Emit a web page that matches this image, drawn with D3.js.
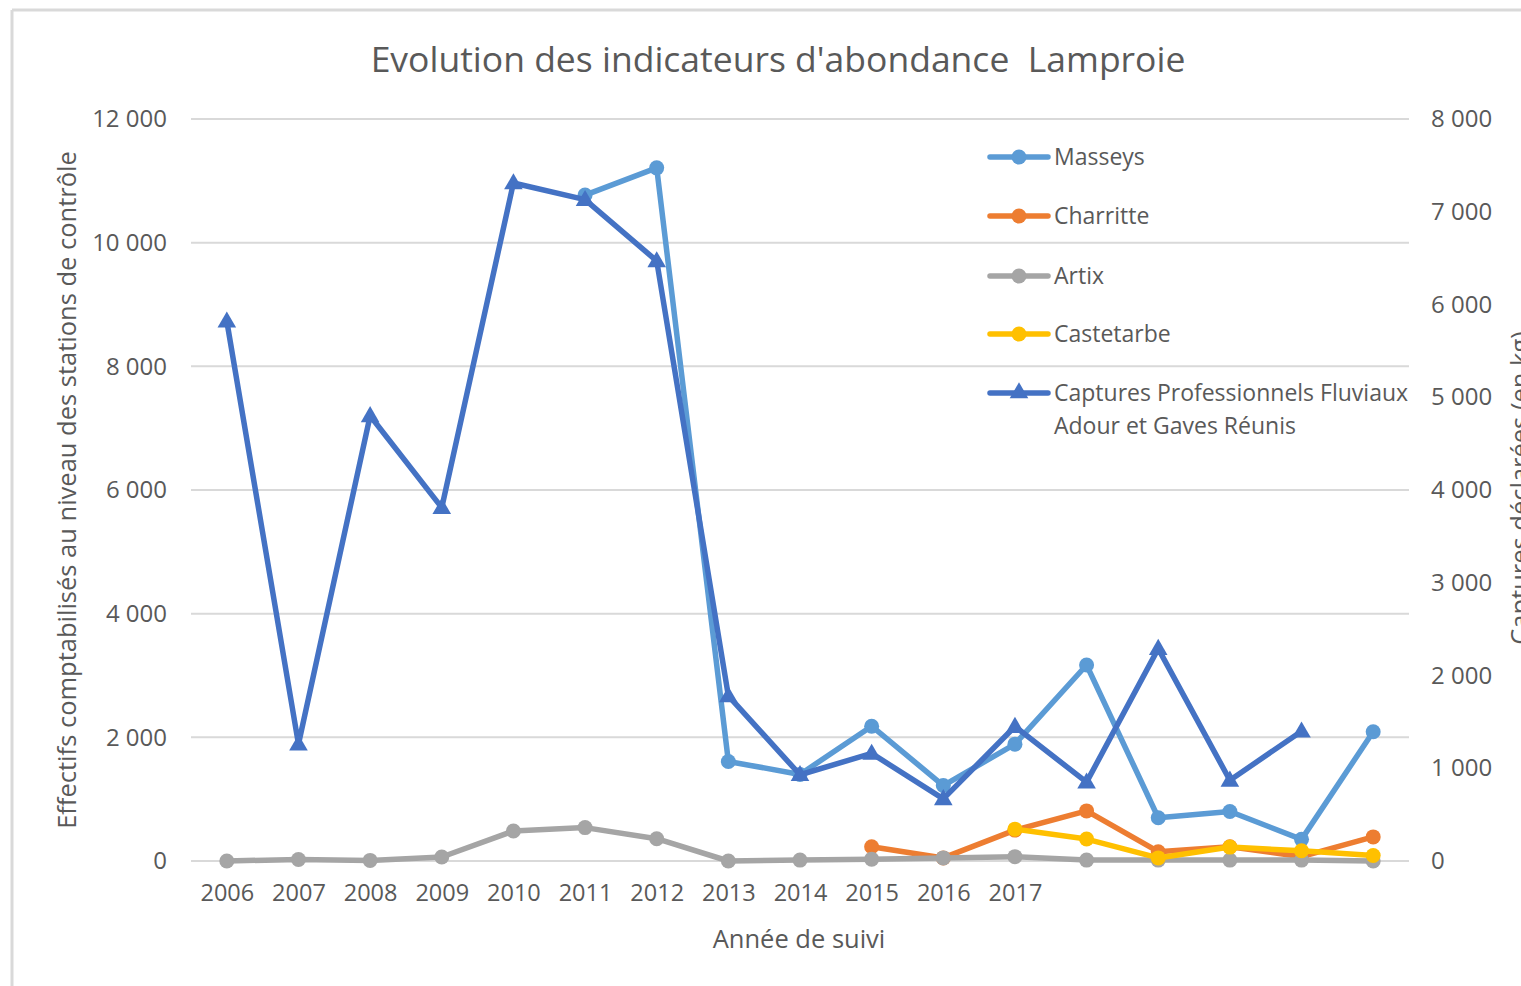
<!DOCTYPE html>
<html>
<head>
<meta charset="utf-8">
<script src="https://cdn.jsdelivr.net/npm/d3@7"></script>
<style>
  body { margin: 0; background: #ffffff; }
  svg { display: block; }
</style>
</head>
<body>
<svg id="chart" width="1521" height="986"></svg>
<script>
const years = ["2006", "2007", "2008", "2009", "2010", "2011", "2012", "2013", "2014", "2015", "2016", "2017", "2018", "2019", "2020", "2021", "2022"];
const yearLabels = ["2006", "2007", "2008", "2009", "2010", "2011", "2012", "2013", "2014", "2015", "2016", "2017"];

const masseys = [null, null, null, null, null, 10770, 11210, 1610, 1400, 2180, 1220, 1890, 3170, 700, 800, 350, 2090];
const charritte = [null, null, null, null, null, null, null, null, null, 230, 50, 500, 810, 150, 230, 70, 390];
const artix = [0, 25, 10, 65, 485, 540, 360, 0, 15, 30, 50, 70, 15, 15, 15, 15, 0];
const castetarbe = [null, null, null, null, null, null, null, null, null, null, null, 515, 355, 50, 225, 165, 90];
const captures = [5820, 1260, 4800, 3810, 7310, 7130, 6470, 1780, 930, 1160, 670, 1450, 850, 2290, 870, 1400, null];

const leftTicks = [0, 2000, 4000, 6000, 8000, 10000, 12000];
const rightTicks = [0, 1000, 2000, 3000, 4000, 5000, 6000, 7000, 8000];

const series = [
  { name: "Masseys", values: masseys, color: "#5b9bd5", axis: "left", marker: "circle" },
  { name: "Charritte", values: charritte, color: "#ed7d31", axis: "left", marker: "circle" },
  { name: "Artix", values: artix, color: "#a5a5a5", axis: "left", marker: "circle" },
  { name: "Castetarbe", values: castetarbe, color: "#ffc000", axis: "left", marker: "circle" },
  { name: ["Captures Professionnels Fluviaux", "Adour et Gaves Réunis"], values: captures, color: "#4472c4", axis: "right", marker: "triangle" }
];

const textColor = "#595959";
const font = "'Open Sans', sans-serif";

const locale = d3.formatLocale({ decimal: ",", thousands: " ", grouping: [3], currency: ["", ""] });
const fmt = locale.format(",");

const svg = d3.select("#chart");

// outer frame (only top and left edges are visible in the crop)
svg.append("line").attr("x1", 12).attr("x2", 1521).attr("y1", 10).attr("y2", 10)
  .attr("stroke", "#d9d9d9").attr("stroke-width", 3);
svg.append("line").attr("x1", 12).attr("x2", 12).attr("y1", 10).attr("y2", 986)
  .attr("stroke", "#d9d9d9").attr("stroke-width", 3);

const plot = { left: 191, right: 1409, top: 119, bottom: 861 };

const x = d3.scalePoint()
  .domain(years)
  .range([plot.left, plot.right])
  .padding(0.5);

const yLeft = d3.scaleLinear().domain([0, 12000]).range([plot.bottom, plot.top]);
const yRight = d3.scaleLinear().domain([0, 8000]).range([plot.bottom, plot.top]);

// gridlines
svg.append("g")
  .selectAll("line")
  .data(leftTicks)
  .enter()
  .append("line")
  .attr("x1", plot.left)
  .attr("x2", plot.right)
  .attr("y1", (d) => yLeft(d))
  .attr("y2", (d) => yLeft(d))
  .attr("stroke", "#d9d9d9")
  .attr("stroke-width", 2);

// left axis
const gLeft = svg.append("g")
  .attr("transform", `translate(${plot.left - 21},0)`)
  .call(d3.axisLeft(yLeft).tickValues(leftTicks).tickFormat(fmt).tickSize(0));
gLeft.select(".domain").remove();
gLeft.selectAll("text")
  .attr("fill", textColor)
  .style("font-family", font)
  .style("font-size", "24px");

// right axis
const gRight = svg.append("g")
  .attr("transform", `translate(${plot.right + 19},0)`)
  .call(d3.axisRight(yRight).tickValues(rightTicks).tickFormat(fmt).tickSize(0));
gRight.select(".domain").remove();
gRight.selectAll("text")
  .attr("fill", textColor)
  .style("font-family", font)
  .style("font-size", "24px");

// bottom axis, labels only up to 2017
const gBottom = svg.append("g")
  .attr("transform", `translate(0,${plot.bottom + 20})`)
  .call(d3.axisBottom(x).tickSize(0).tickFormat((d) => yearLabels.includes(d) ? d : ""));
gBottom.select(".domain").remove();
gBottom.selectAll("text")
  .attr("fill", textColor)
  .style("font-family", font)
  .style("font-size", "23.5px");

// titles
svg.append("text")
  .attr("x", 778)
  .attr("y", 72)
  .attr("text-anchor", "middle")
  .attr("fill", textColor)
  .style("font-family", font)
  .style("font-size", "35.5px")
  .style("white-space", "pre")
  .text("Evolution des indicateurs d'abondance  Lamproie");

svg.append("text")
  .attr("x", 799)
  .attr("y", 948)
  .attr("text-anchor", "middle")
  .attr("fill", textColor)
  .style("font-family", font)
  .style("font-size", "25.5px")
  .text("Année de suivi");

svg.append("text")
  .attr("transform", `translate(76,490) rotate(-90)`)
  .attr("text-anchor", "middle")
  .attr("fill", textColor)
  .style("font-family", font)
  .style("font-size", "25.5px")
  .text("Effectifs comptabilisés au niveau des stations de contrôle");

svg.append("text")
  .attr("transform", `translate(1529,488) rotate(-90)`)
  .attr("text-anchor", "middle")
  .attr("fill", textColor)
  .style("font-family", font)
  .style("font-size", "25.5px")
  .text("Captures déclarées (en kg)");

// series
const triangle = d3.symbol().type(d3.symbolTriangle).size(150);

series.forEach((s) => {
  const y = s.axis === "left" ? yLeft : yRight;
  const pts = years.map((yr, i) => ({ yr, v: s.values[i] })).filter((p) => p.v !== null);

  const line = d3.line()
    .x((d) => x(d.yr))
    .y((d) => y(d.v));

  const g = svg.append("g");
  g.append("path")
    .datum(pts)
    .attr("d", line)
    .attr("fill", "none")
    .attr("stroke", s.color)
    .attr("stroke-width", 5.5)
    .attr("stroke-linejoin", "round")
    .attr("stroke-linecap", "round");

  if (s.marker === "circle") {
    g.selectAll("circle")
      .data(pts)
      .enter()
      .append("circle")
      .attr("cx", (d) => x(d.yr))
      .attr("cy", (d) => y(d.v))
      .attr("r", 7.5)
      .attr("fill", s.color);
  } else {
    g.selectAll(".tri")
      .data(pts)
      .enter()
      .append("path")
      .attr("class", "tri")
      .attr("transform", (d) => `translate(${x(d.yr)},${y(d.v) + 1})`)
      .attr("d", triangle)
      .attr("fill", s.color);
  }
});

// legend
const legendRows = [157, 216, 276, 334, 393];
const legend = svg.append("g");
series.forEach((s, i) => {
  const ly = legendRows[i];
  legend.append("line")
    .attr("x1", 990).attr("x2", 1048)
    .attr("y1", ly).attr("y2", ly)
    .attr("stroke", s.color)
    .attr("stroke-width", 5.5)
    .attr("stroke-linecap", "round");
  if (s.marker === "circle") {
    legend.append("circle").attr("cx", 1019).attr("cy", ly).attr("r", 7.5).attr("fill", s.color);
  } else {
    legend.append("path").attr("transform", `translate(1019,${ly})`).attr("d", triangle).attr("fill", s.color);
  }
  const names = Array.isArray(s.name) ? s.name : [s.name];
  const t = legend.append("text")
    .attr("x", 1054)
    .attr("y", ly + 8)
    .attr("fill", textColor)
    .style("font-family", font)
    .style("font-size", "23px");
  names.forEach((n, j) => {
    t.append("tspan").attr("x", 1054).attr("dy", j === 0 ? 0 : 33).text(n);
  });
});
</script>
</body>
</html>
